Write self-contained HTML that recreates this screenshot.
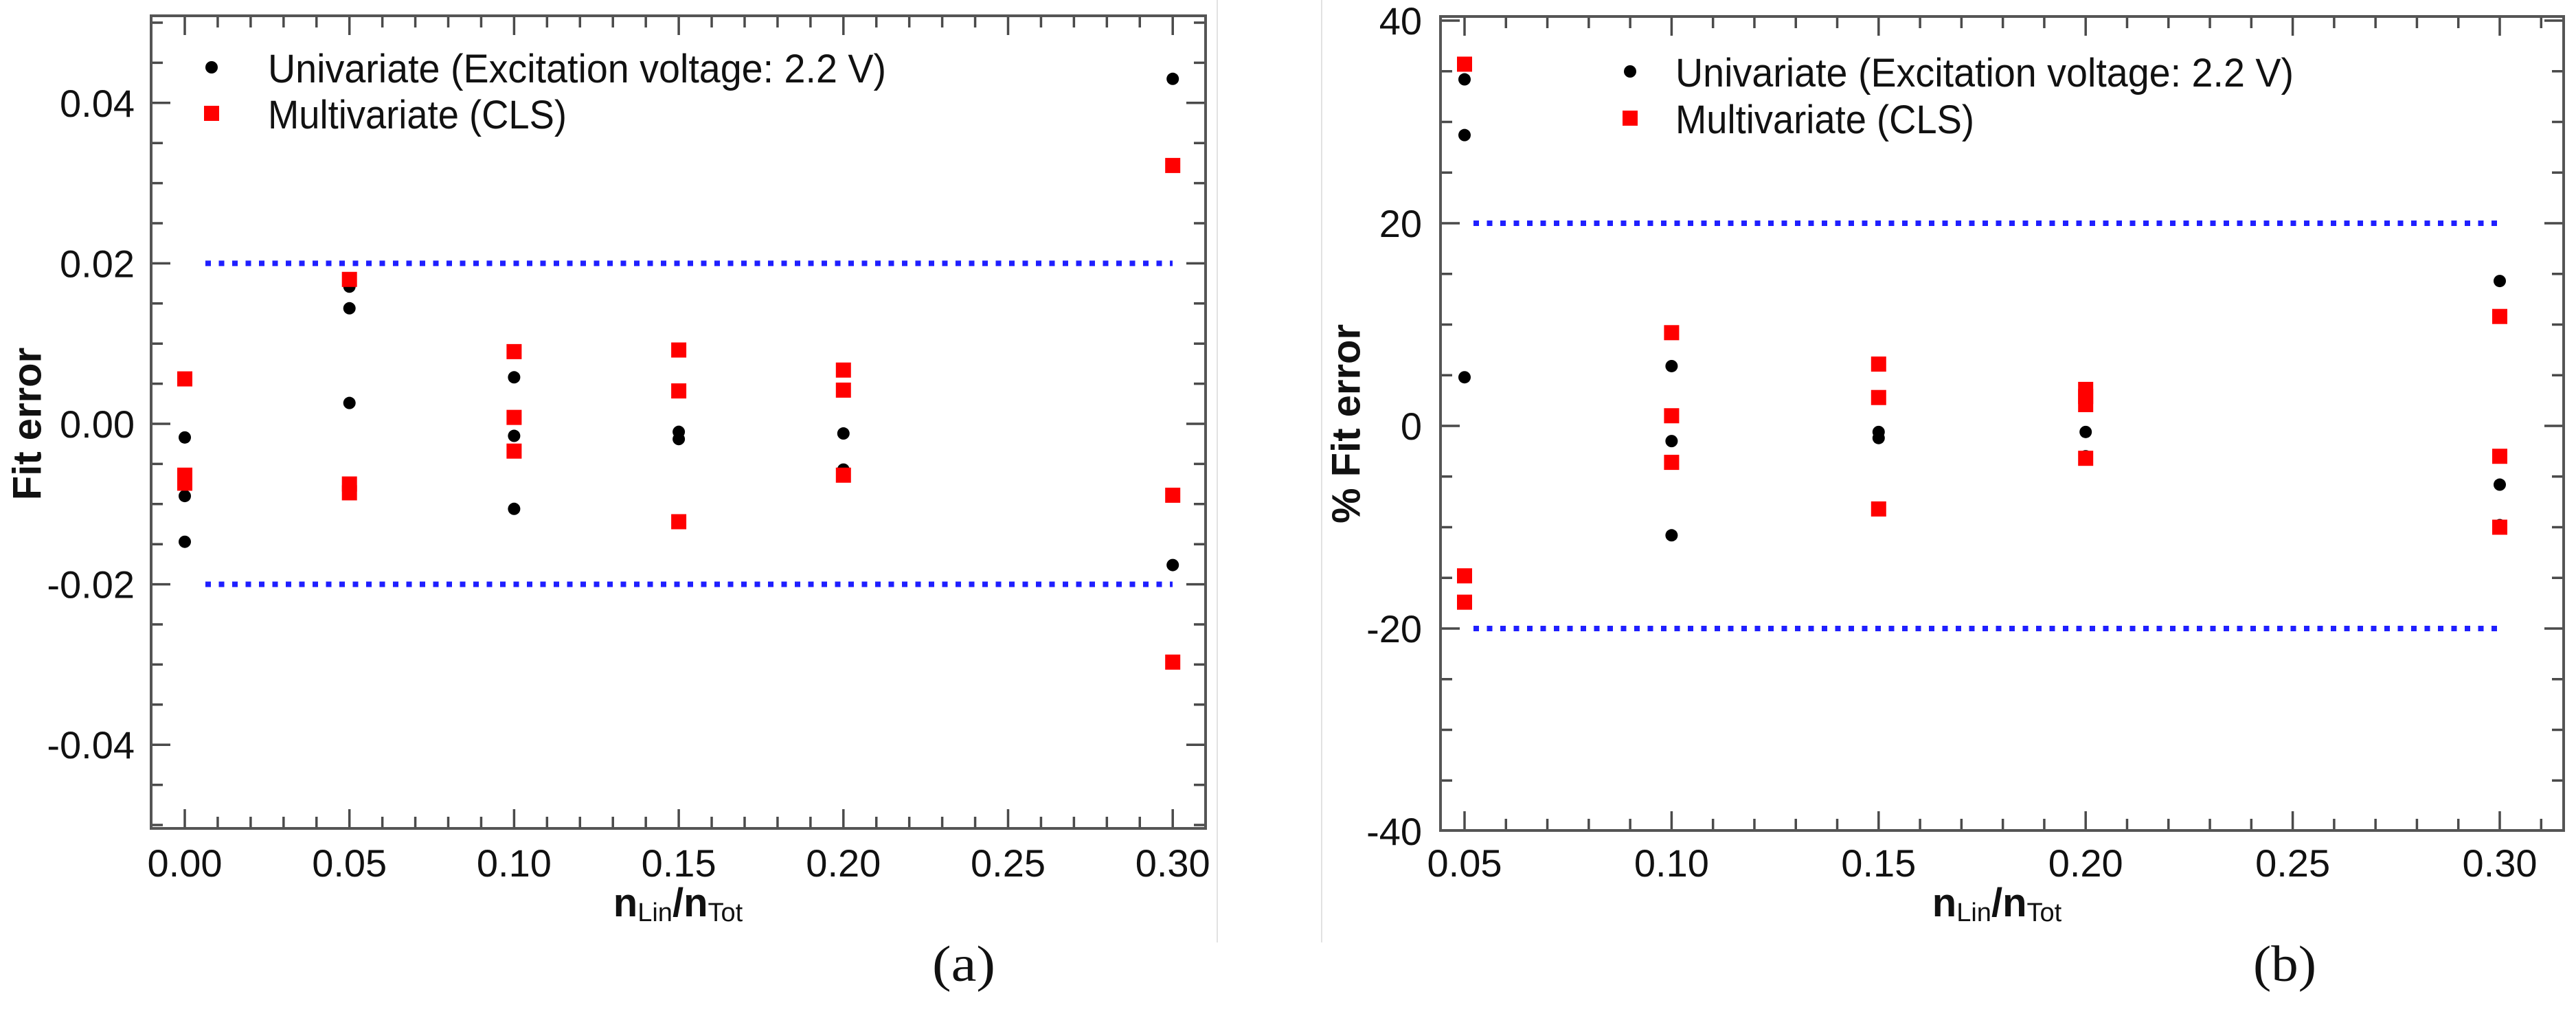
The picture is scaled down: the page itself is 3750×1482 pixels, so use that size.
<!DOCTYPE html>
<html><head><meta charset="utf-8"><style>
html,body{margin:0;padding:0;background:#fff;}
svg{display:block;}
text{font-family:"Liberation Sans",sans-serif;fill:#111;}
</style></head><body>
<svg id="fig" width="3750" height="1482" viewBox="0 0 3750 1482" xmlns="http://www.w3.org/2000/svg">
<rect x="0" y="0" width="3750" height="1482" fill="#fff"/>
<line x1="1772" y1="0" x2="1772" y2="1372" stroke="#e2e2e2" stroke-width="2"/>
<line x1="1924" y1="0" x2="1924" y2="1372" stroke="#e2e2e2" stroke-width="2"/>
</svg>
<script>
// ---- Panel (a) data ----
const aUniX = [0,0,0, 0.05,0.05,0.05, 0.10,0.10,0.10, 0.15,0.15, 0.20,0.20, 0.30,0.30,0.30];
const aUniY = [-0.0017,-0.0090,-0.0147, 0.0171,0.0144,0.0026, 0.0058,-0.0015,-0.0106, -0.0010,-0.0019, -0.0012,-0.0057, 0.0430,-0.0176,-0.0297];
const aMulX = [0,0,0, 0.05,0.05,0.05, 0.10,0.10,0.10, 0.15,0.15,0.15, 0.20,0.20,0.20, 0.30,0.30,0.30];
const aMulY = [0.0056,-0.0064,-0.0074, 0.0180,-0.0075,-0.0086, 0.0090,0.0008,-0.0034, 0.0092,0.0041,-0.0122, 0.0067,0.0042,-0.0064, 0.0322,-0.0089,-0.0297];
const aXTicks = [0,0.05,0.10,0.15,0.20,0.25,0.30];
const aXTickLabels = ["0.00","0.05","0.10","0.15","0.20","0.25","0.30"];
const aYTicks = [0.04,0.02,0,-0.02,-0.04];
const aYTickLabels = ["0.04","0.02","0.00","-0.02","-0.04"];
const aLimits = [0.02,-0.02];
// ---- Panel (b) data ----
const bUniX = [0.05,0.05,0.05, 0.10,0.10,0.10, 0.15,0.15, 0.20,0.20, 0.30,0.30,0.30];
const bUniY = [34.2,28.7,4.8, 5.9,-1.5,-10.8, -0.6,-1.2, -0.6,-3.0, 14.3,-5.8,-9.8];
const bMulX = [0.05,0.05,0.05, 0.10,0.10,0.10, 0.15,0.15,0.15, 0.20,0.20,0.20,0.20, 0.30,0.30,0.30];
const bMulY = [35.7,-14.8,-17.4, 9.2,1.0,-3.6, 6.1,2.8,-8.2, 3.6,2.9,2.1,-3.2, 10.8,-3.0,-10.0];
const bXTicks = [0.05,0.10,0.15,0.20,0.25,0.30];
const bXTickLabels = ["0.05","0.10","0.15","0.20","0.25","0.30"];
const bYTicks = [40,20,0,-20,-40];
const bYTickLabels = ["40","20","0","-20","-40"];
const bLimits = [20,-20];

const NS = "http://www.w3.org/2000/svg";
const svg = document.getElementById('fig');
function mk(tag, attrs, parent){ const e=document.createElementNS(NS,tag); for(const k in attrs) e.setAttribute(k,attrs[k]); (parent||svg).appendChild(e); return e; }

function panel(cfg){
  const g = mk('g',{});
  
  
  const X = v => cfg.x0px + (v - cfg.x0v) * cfg.xs;
  const Y = v => cfg.y0px - (v - cfg.y0v) * cfg.ys;
  const L=cfg.L,R=cfg.R,T=cfg.T,B=cfg.B;
  const tg = mk('g',{stroke:'#4a4a4a','stroke-width':3.5},g);
  
  
  for(let k=Math.ceil(cfg.xmin/cfg.xminor-1e-9); k*cfg.xminor<=cfg.xmax+1e-9; k++){
    const v=k*cfg.xminor, px=X(v);
    if(px<L+2||px>R-2) continue;
    const major = Math.abs(v/cfg.xmajor - Math.round(v/cfg.xmajor))<1e-6;
    const len = major?28:17;
    mk('line',{x1:px,y1:B,x2:px,y2:B-len},tg);
    mk('line',{x1:px,y1:T,x2:px,y2:T+len},tg);
  }
  for(let k=Math.ceil(cfg.ymin/cfg.yminor-1e-9); k*cfg.yminor<=cfg.ymax+1e-9; k++){
    const v=k*cfg.yminor, py=Y(v);
    if(py<T+2||py>B-2) continue;
    const major = Math.abs(v/cfg.ymajor - Math.round(v/cfg.ymajor))<1e-6;
    const len = major?28:17;
    mk('line',{x1:L,y1:py,x2:L+len,y2:py},tg);
    mk('line',{x1:R,y1:py,x2:R-len,y2:py},tg);
  }
  const fr = mk('rect',{x:L,y:T,width:R-L,height:B-T,fill:'none',stroke:'#555','stroke-width':4},g);
  
  
  cfg.limits.forEach((lv,i)=>{
    const ln = mk('line',{x1:cfg.limX1,x2:cfg.limX2,y1:Y(lv),y2:Y(lv),stroke:'#1f1fff','stroke-width':8,'stroke-dasharray':'8 11.5'},g);
    
    
  });
  cfg.xticks.forEach((v,i)=>{
    const t = mk('text',{x:X(v),y:1276,'text-anchor':'middle','font-size':56},g);
    t.textContent = cfg.xlabels[i];
    
    
  });
  cfg.yticks.forEach((v,i)=>{
    const t = mk('text',{x:cfg.ylabRight,y:Y(v)+20,'text-anchor':'end','font-size':56},g);
    t.textContent = cfg.ylabels[i];
    
    
  });
  cfg.ux.forEach((v,i)=>{
    const c = mk('circle',{cx:X(v),cy:Y(cfg.uy[i]),r:9,fill:'#000'},g);
    
    
  });
  cfg.mx.forEach((v,i)=>{
    const r = mk('rect',{x:X(v)-11,y:Y(cfg.my[i])-11,width:22,height:22,fill:'#ff0000'},g);
    
    
  });
  const lg = mk('g',{},g);
  
  
  mk('circle',{cx:cfg.legX,cy:cfg.legY1,r:9,fill:'#000'},lg);
  mk('rect',{x:cfg.legX-11,y:cfg.legY2-11,width:22,height:22,fill:'#ff0000'},lg);
  const t1 = mk('text',{x:cfg.legTX,y:cfg.legY1+22,'font-size':58,textLength:900,lengthAdjust:'spacingAndGlyphs'},lg);
  t1.textContent='Univariate (Excitation voltage: 2.2 V)';
  
  
  const t2 = mk('text',{x:cfg.legTX,y:cfg.legY2+22,'font-size':58,textLength:435,lengthAdjust:'spacingAndGlyphs'},lg);
  t2.textContent='Multivariate (CLS)';
  
  
  const xt = mk('text',{x:cfg.xTitleX,y:1334,'text-anchor':'middle','font-size':58,'font-weight':'bold'},g);
  
  
  xt.innerHTML = 'n<tspan font-size="38" font-weight="normal" dy="7">Lin</tspan><tspan dy="-7">/n</tspan><tspan font-size="38" font-weight="normal" dy="7">Tot</tspan>';
  const yt = mk('text',{x:0,y:0,'text-anchor':'middle','font-size':58,'font-weight':'bold','dominant-baseline':'central',transform:'translate('+cfg.yTitleX+',617) rotate(-90)'},g);
  yt.textContent = cfg.ytitle;
  
  
  const pl = mk('text',{x:cfg.tagX,y:1428,'font-size':74,textLength:92,lengthAdjust:'spacingAndGlyphs',style:'font-family:"Liberation Serif",serif'},g);
  pl.textContent = cfg.tag;
  
  
}

panel({id:'panel-a', L:220,R:1755,T:23,B:1206,
  x0v:0,x0px:269,xs:4794, y0v:0,y0px:617,ys:11680,
  xmin:-0.01,xmax:0.31,xminor:0.01,xmajor:0.05, ymin:-0.06,ymax:0.06,yminor:0.005,ymajor:0.02,
  limits:aLimits, limX1:299, limX2:1707,
  xticks:aXTicks,xlabels:aXTickLabels,yticks:aYTicks,ylabels:aYTickLabels,ylabRight:196,
  ux:aUniX,uy:aUniY,mx:aMulX,my:aMulY,
  legX:308,legY1:98,legY2:165,legTX:390,
  xTitleX:987, yTitleX:40, ytitle:'Fit error', tagX:1357, tag:'(a)'});

panel({id:'panel-b', L:2097,R:3732,T:24,B:1209,
  x0v:0.05,x0px:2132,xs:6028, y0v:0,y0px:620,ys:14.75,
  xmin:0.04,xmax:0.32,xminor:0.01,xmajor:0.05, ymin:-45,ymax:45,yminor:5,ymajor:20,
  limits:bLimits, limX1:2145, limX2:3639,
  xticks:bXTicks,xlabels:bXTickLabels,yticks:bYTicks,ylabels:bYTickLabels,ylabRight:2070,
  ux:bUniX,uy:bUniY,mx:bMulX,my:bMulY,
  legX:2373,legY1:104,legY2:172,legTX:2439,
  xTitleX:2907, yTitleX:1960, ytitle:'% Fit error', tagX:3280, tag:'(b)'});
</script>
</body></html>
